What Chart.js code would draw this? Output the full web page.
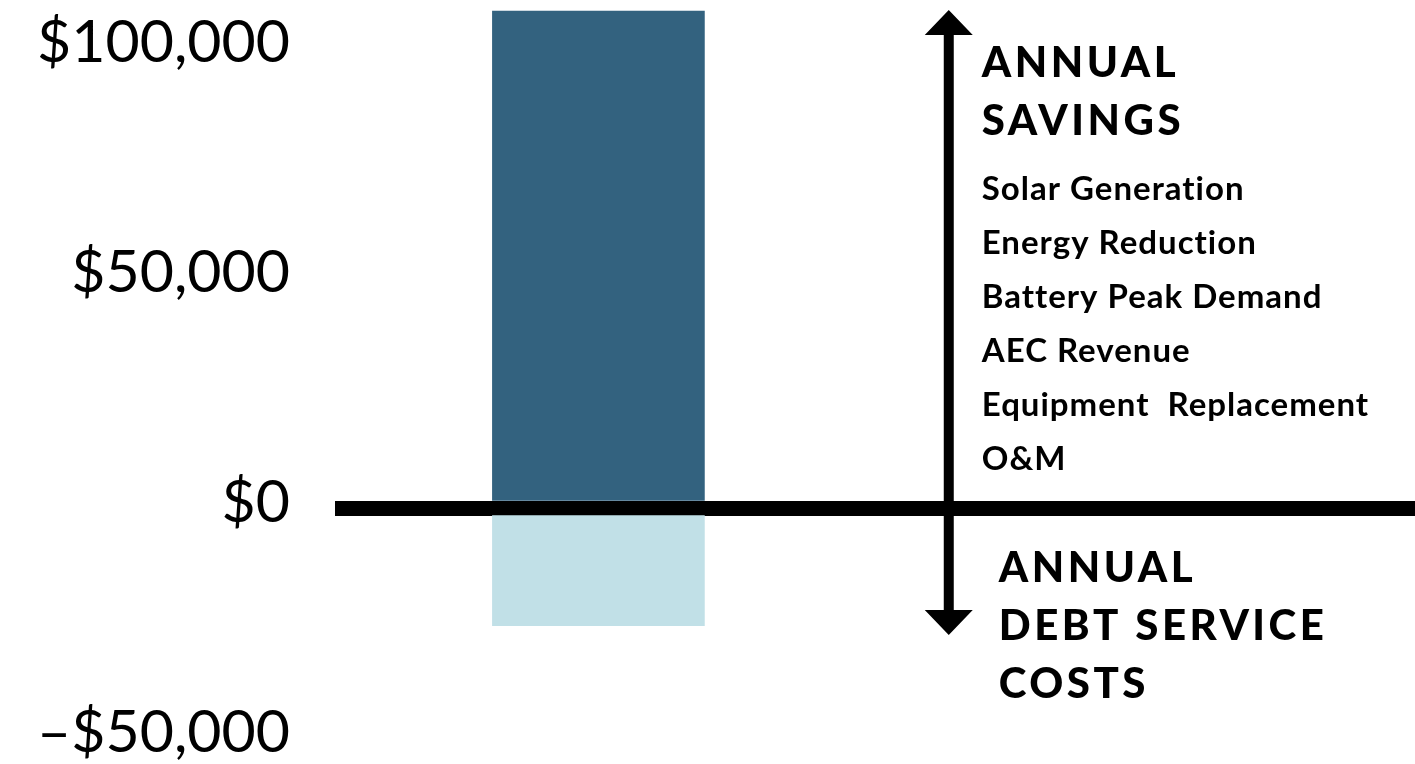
<!DOCTYPE html>
<html>
<head>
<meta charset="utf-8">
<script src="https://cdn.jsdelivr.net/npm/chart.js@4.4.1/dist/chart.umd.min.js"></script>
<style>
	html, body { margin: 0; padding: 0; background: #fff; }
	#wrap { width: 1415px; height: 764px; }
</style>
</head>
<body>
<div id="wrap"><canvas id="chart" width="1415" height="764"></canvas></div>
<script>
// values (USD per year)
const barPosition = [1];
const annualSavings = [108000];
const annualDebtService = [-25600];
const yTicks = [-50000, 0, 50000, 100000];
const savingsItems = ['Solar Generation', 'Energy Reduction', 'Battery Peak Demand', 'AEC Revenue', 'Equipment  Replacement', 'O&M'];
const savingsTitle = ['ANNUAL', 'SAVINGS'];
const costsTitle = ['ANNUAL', 'DEBT SERVICE', 'COSTS'];
const arrowAt = 2.33;

const fmt = v => (v < 0 ? '\u2013$' : '$') + Math.abs(v).toLocaleString('en-US');

// arrow + side labels
const sideNotes = {
	id: 'sideNotes',
	afterDraw(chart) {
		const { ctx } = chart;
		const x = chart.scales.x.getPixelForValue(arrowAt);
		const top = 10, bottom = 635;
		ctx.save();
		ctx.fillStyle = '#000';
		ctx.fillRect(x - 5, top + 20, 10, bottom - top - 40);
		ctx.beginPath();
		ctx.moveTo(x, top); ctx.lineTo(x + 24, top + 25); ctx.lineTo(x - 24, top + 25); ctx.closePath();
		ctx.moveTo(x, bottom); ctx.lineTo(x + 24, bottom - 25); ctx.lineTo(x - 24, bottom - 25); ctx.closePath();
		ctx.fill();

		ctx.textAlign = 'left';
		ctx.textBaseline = 'alphabetic';
		ctx.font = '900 42px Lato';
		ctx.letterSpacing = '3.5px';
		savingsTitle.forEach((t, i) => ctx.fillText(t, x + 33, 77 + i * 58));
		costsTitle.forEach((t, i) => ctx.fillText(t, x + 50, 582 + i * 58));
		ctx.letterSpacing = '1px';
		ctx.font = 'bold 33px Lato';
		savingsItems.forEach((t, i) => ctx.fillText(t, x + 33, 200 + i * 54));
		ctx.restore();
	}
};

new Chart(document.getElementById('chart'), {
	type: 'bar',
	data: {
		datasets: [
			{ label: 'Annual savings', data: barPosition.map((p, i) => ({ x: p, y: annualSavings[i] })), backgroundColor: '#33627f', clip: false },
			{ label: 'Annual debt service', data: barPosition.map((p, i) => ({ x: p, y: annualDebtService[i] })), backgroundColor: '#c1e0e7', clip: false }
		]
	},
	options: {
		responsive: false,
		animation: false,
		layout: { padding: { top: 48, bottom: 26, left: 0, right: 0 } },
		datasets: { bar: { barThickness: 212, borderWidth: 0 } },
		plugins: { legend: { display: false }, tooltip: { enabled: false } },
		scales: {
			x: { type: 'linear', min: 0, max: 4.1, offset: false, stacked: true, display: false },
			y: {
				stacked: true,
				min: -50000, max: 100000,
				z: 1,
				afterBuildTicks: s => { s.ticks = yTicks.map(v => ({ value: v })); },
				afterFit: s => { s.width = 335; s.paddingTop = 0; s.paddingBottom = 0; },
				border: { display: false },
				grid: {
					drawTicks: false,
					color: c => c.tick && c.tick.value === 0 ? '#000' : 'rgba(0,0,0,0)',
					lineWidth: c => c.tick && c.tick.value === 0 ? 15 : 0
				},
				ticks: {
					padding: 45,
					labelOffset: -5,
					color: '#000',
					font: { family: 'Lato', size: 59, lineHeight: 0.9 },
					callback: v => fmt(v)
				}
			}
		}
	},
	plugins: [sideNotes]
});
</script>
</body>
</html>
